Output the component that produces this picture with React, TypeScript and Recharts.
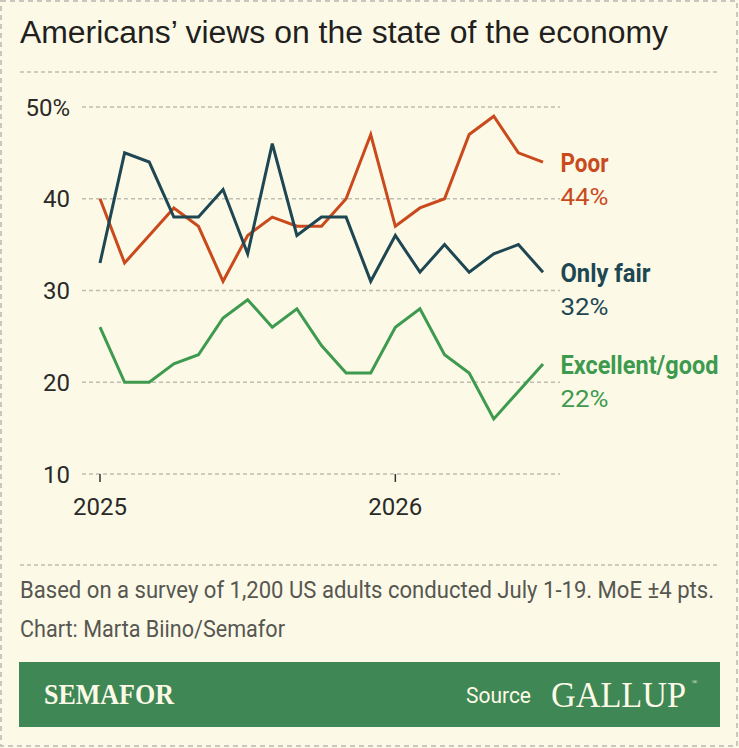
import React from 'react';
import { LineChart, Line, XAxis, YAxis, CartesianGrid } from 'recharts';

// Monthly survey readings, Jan 2025 – Jul 2026 (percent of US adults)
const months = [
  'Jan 2025', 'Feb 2025', 'Mar 2025', 'Apr 2025', 'May 2025', 'Jun 2025', 'Jul 2025',
  'Aug 2025', 'Sep 2025', 'Oct 2025', 'Nov 2025', 'Dec 2025', 'Jan 2026', 'Feb 2026',
  'Mar 2026', 'Apr 2026', 'May 2026', 'Jun 2026', 'Jul 2026',
];
const poor = [40, 33, 36, 39, 37, 31, 36, 38, 37, 37, 40, 47, 37, 39, 40, 47, 49, 45, 44];
const onlyFair = [33, 45, 44, 38, 38, 41, 34, 46, 36, 38, 38, 31, 36, 32, 35, 32, 34, 35, 32];
const excellentGood = [26, 20, 20, 22, 23, 27, 29, 26, 28, 24, 21, 21, 26, 28, 23, 21, 16, 19, 22];

const yTicks = [10, 20, 30, 40, 50];
const xTicks = [0, 12];
const xTickLabels = ['2025', '2026'];

const data = months.map((m, i) => ({
  i,
  month: m,
  poor: poor[i],
  onlyFair: onlyFair[i],
  excellentGood: excellentGood[i],
}));

const BG = '#FCFAE7';
const C_POOR = '#C94A1C';
const C_FAIR = '#1E4753';
const C_GOOD = '#3E9A4E';
const BANNER = '#3F8755';
const SANS = 'Roboto, "Liberation Sans", sans-serif';
const LAST = months.length - 1;

type EndLabelSpec = { name: string; color: string; nameWidth: number };

const endLabel = (spec: EndLabelSpec) => (props: any) => {
  const { x, y, index, value } = props;
  if (index !== LAST || x == null || y == null) return null;
  return (
    <g>
      <text
        x={x + 17.5}
        y={y + 10}
        fill={spec.color}
        fontFamily={SANS}
        fontWeight={700}
        fontSize={25}
        textLength={spec.nameWidth}
        lengthAdjust="spacingAndGlyphs"
      >
        {spec.name}
      </text>
      <text
        x={x + 17.5}
        y={y + 43}
        fill={spec.color}
        fontFamily={SANS}
        fontSize={24}
        textLength={48}
        lengthAdjust="spacingAndGlyphs"
      >
        {`${value}%`}
      </text>
    </g>
  );
};

// Condensed text line: glyphs narrowed horizontally to fit a given width
const NarrowText = ({ x, y, width, squeeze, children, ...rest }: any) => (
  <text
    x={x / squeeze}
    y={y}
    transform={`scale(${squeeze},1)`}
    textLength={width / squeeze}
    lengthAdjust="spacingAndGlyphs"
    {...rest}
  >
    {children}
  </text>
);

const Frame = () => (
  <svg width={739} height={748} style={{ position: 'absolute', left: 0, top: 0 }}>
    <rect x={1} y={1} width={736} height={745} fill={BG} stroke="#C8C8C0" strokeWidth={2} strokeDasharray="5 4" />
    <text
      x={20}
      y={43}
      fill="#231F20"
      fontFamily='"Liberation Sans", Arial, sans-serif'
      fontSize={31}
      textLength={648}
      lengthAdjust="spacingAndGlyphs"
    >
      Americans’ views on the state of the economy
    </text>
    <line x1={20} y1={72} x2={720} y2={72} stroke="#BDBDB2" strokeWidth={1.5} strokeDasharray="4 3" />
    <line x1={20} y1={565} x2={720} y2={565} stroke="#BDBDB2" strokeWidth={1.5} strokeDasharray="4 3" />
    <NarrowText x={20} y={598} width={694} squeeze={0.88} fill="#575752" fontFamily={SANS} fontSize={23}>
      Based on a survey of 1,200 US adults conducted July 1-19. MoE ±4 pts.
    </NarrowText>
    <NarrowText x={20} y={637} width={265} squeeze={0.88} fill="#575752" fontFamily={SANS} fontSize={23}>
      Chart: Marta Biino/Semafor
    </NarrowText>
    <rect x={19} y={662} width={701} height={65} fill={BANNER} />
    <NarrowText
      x={44}
      y={704}
      width={130}
      squeeze={0.88}
      fill={BG}
      fontFamily='"Liberation Serif", "DejaVu Serif", serif'
      fontWeight={700}
      fontSize={29}
    >
      SEMAFOR
    </NarrowText>
    <text x={466} y={703} fill={BG} fontFamily={SANS} fontSize={22} textLength={65} lengthAdjust="spacingAndGlyphs">
      Source
    </text>
    <text
      x={551}
      y={707}
      fill={BG}
      fontFamily='"Liberation Serif", "DejaVu Serif", serif'
      fontSize={36}
      textLength={135}
      lengthAdjust="spacingAndGlyphs"
    >
      GALLUP
    </text>
    <text x={692} y={684} fill={BG} fontFamily='"Liberation Serif", serif' fontSize={7}>
      ®
    </text>
  </svg>
);

export default function App() {
  return (
    <div style={{ position: 'absolute', left: 0, top: 0, width: 739, height: 748, background: BG, overflow: 'hidden' }}>
      <Frame />
      <div style={{ position: 'absolute', left: 0, top: 0 }}>
        <LineChart
          width={739}
          height={748}
          data={data}
          margin={{ top: 107, right: 179, bottom: 214, left: 22 }}
        >
          <CartesianGrid vertical={false} stroke="#BDBDB2" strokeWidth={1.5} strokeDasharray="4 3" />
          <XAxis
            dataKey="i"
            type="number"
            domain={[0, LAST]}
            ticks={xTicks}
            tickFormatter={(v: number) => xTickLabels[xTicks.indexOf(v)] ?? ''}
            axisLine={false}
            tickLine={{ stroke: '#333', strokeWidth: 1.5 }}
            tickSize={8}
            tickMargin={16}
            height={60}
            padding={{ left: 18, right: 17 }}
            tick={{ fill: '#2A2A28', fontFamily: SANS, fontSize: 24 }}
          />
          <YAxis
            type="number"
            domain={[10, 50]}
            ticks={yTicks}
            tickFormatter={(v: number) => (v === 50 ? '50%' : String(v))}
            axisLine={false}
            tickLine={false}
            tickSize={0}
            tickMargin={12}
            width={60}
            tick={{ fill: '#2A2A28', fontFamily: SANS, fontSize: 24 }}
          />
          <Line
            dataKey="excellentGood"
            stroke={C_GOOD}
            strokeWidth={3}
            dot={false}
            isAnimationActive={false}
            label={endLabel({ name: 'Excellent/good', color: C_GOOD, nameWidth: 158 })}
          />
          <Line
            dataKey="poor"
            stroke={C_POOR}
            strokeWidth={3}
            dot={false}
            isAnimationActive={false}
            label={endLabel({ name: 'Poor', color: C_POOR, nameWidth: 48 })}
          />
          <Line
            dataKey="onlyFair"
            stroke={C_FAIR}
            strokeWidth={3}
            dot={false}
            isAnimationActive={false}
            label={endLabel({ name: 'Only fair', color: C_FAIR, nameWidth: 90 })}
          />
        </LineChart>
      </div>
    </div>
  );
}
